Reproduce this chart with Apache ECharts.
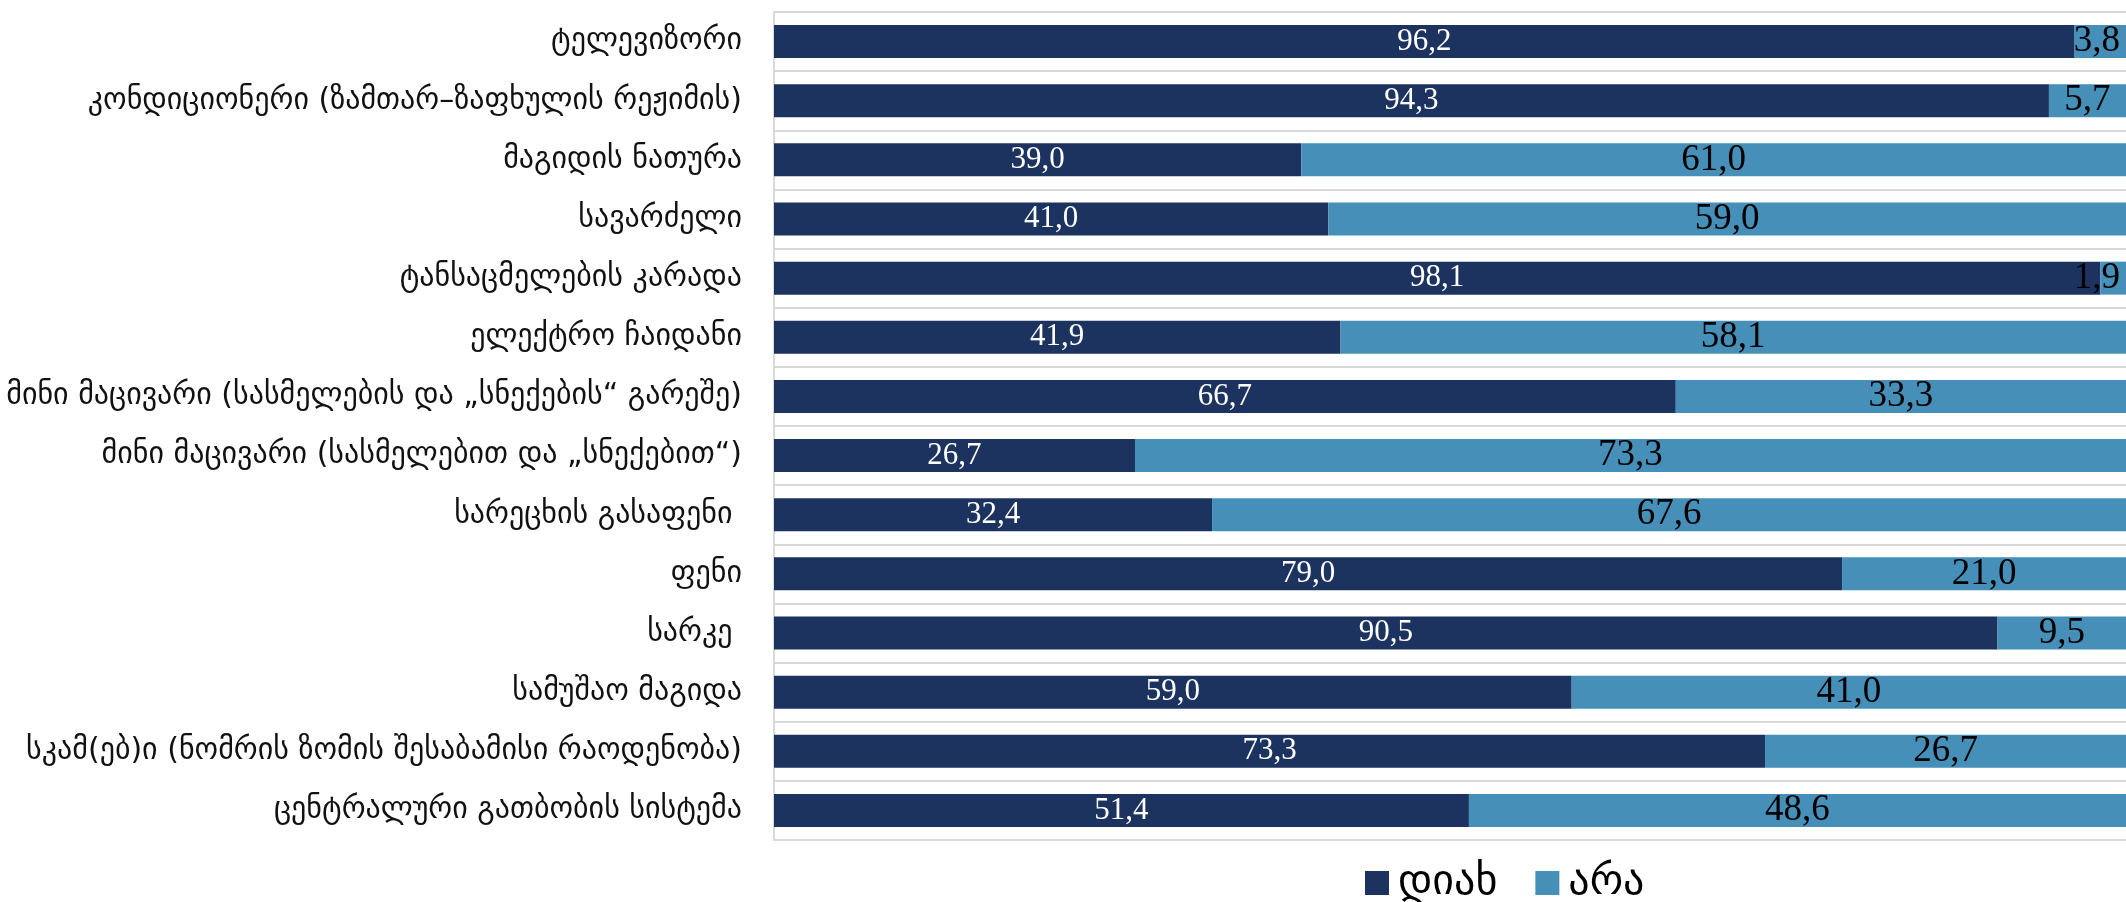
<!DOCTYPE html>
<html>
<head>
<meta charset="utf-8">
<script src="https://cdn.jsdelivr.net/npm/echarts@6/dist/echarts.min.js"></script>
<style>
  html, body { margin: 0; padding: 0; background: #ffffff; }
  #chart { width: 2126px; height: 902px; }
</style>
</head>
<body>
<div id="chart"></div>
<script>
// Items surveyed, top to bottom
const categories = [
  'ტელევიზორი',
  'კონდიციონერი (ზამთარ–ზაფხულის რეჟიმის)',
  'მაგიდის ნათურა',
  'სავარძელი',
  'ტანსაცმელების კარადა',
  'ელექტრო ჩაიდანი',
  'მინი მაცივარი (სასმელების და „სნექების“ გარეშე)',
  'მინი მაცივარი (სასმელებით და „სნექებით“)',
  'სარეცხის გასაფენი ',
  'ფენი',
  'სარკე ',
  'სამუშაო მაგიდა',
  'სკამ(ებ)ი (ნომრის ზომის შესაბამისი რაოდენობა)',
  'ცენტრალური გათბობის სისტემა'
];

// Share answering "yes" / "no", percent
const yesValues = [96.2, 94.3, 39.0, 41.0, 98.1, 41.9, 66.7, 26.7, 32.4, 79.0, 90.5, 59.0, 73.3, 51.4];
const noValues  = [3.8, 5.7, 61.0, 59.0, 1.9, 58.1, 33.3, 73.3, 67.6, 21.0, 9.5, 41.0, 26.7, 48.6];

const seriesNames = ['დიახ', 'არა'];

const fmt = v => v.toFixed(1).replace('.', ',');

// Narrow "no" segments at the right edge get their label pulled inward
const noData = noValues.map(v => v < 5
  ? { value: v, label: { position: 'insideRight', distance: 6 } }
  : v);

const chart = echarts.init(document.getElementById('chart'), null, { renderer: 'canvas' });

chart.setOption({
  backgroundColor: '#ffffff',
  animation: false,
  grid: { left: 774, top: 12, width: 1353, height: 828, containLabel: false },
  xAxis: {
    type: 'value',
    min: 0,
    max: 100,
    show: false
  },
  yAxis: {
    type: 'category',
    data: categories,
    inverse: true,
    axisLine: { show: true, lineStyle: { color: '#d9d9d9', width: 2 } },
    axisTick: { show: false },
    splitLine: { show: true, lineStyle: { color: '#d9d9d9', width: 2 } },
    axisLabel: {
      margin: 32,
      fontFamily: 'DejaVu Sans',
      fontSize: 30,
      color: '#111111'
    }
  },
  legend: {
    left: 1360,
    top: 857,
    itemWidth: 24,
    itemHeight: 24,
    itemGap: 38,
    icon: 'rect',
    textStyle: { fontFamily: 'DejaVu Sans', fontSize: 42, color: '#000000', padding: [0, 0, 0, 4] },
    data: seriesNames
  },
  series: [
    {
      name: seriesNames[0],
      type: 'bar',
      stack: 'total',
      barWidth: 33,
      itemStyle: { color: '#1c3360' },
      label: {
        show: true,
        position: 'inside',
        color: '#ffffff',
        fontFamily: 'Liberation Serif',
        fontSize: 31,
        formatter: p => fmt(p.value)
      },
      data: yesValues
    },
    {
      name: seriesNames[1],
      type: 'bar',
      stack: 'total',
      barWidth: 33,
      itemStyle: { color: '#468fb9' },
      label: {
        show: true,
        position: 'inside',
        color: '#000000',
        fontFamily: 'Liberation Serif',
        fontSize: 37,
        formatter: p => fmt(p.value)
      },
      data: noData
    }
  ]
});
</script>
</body>
</html>
